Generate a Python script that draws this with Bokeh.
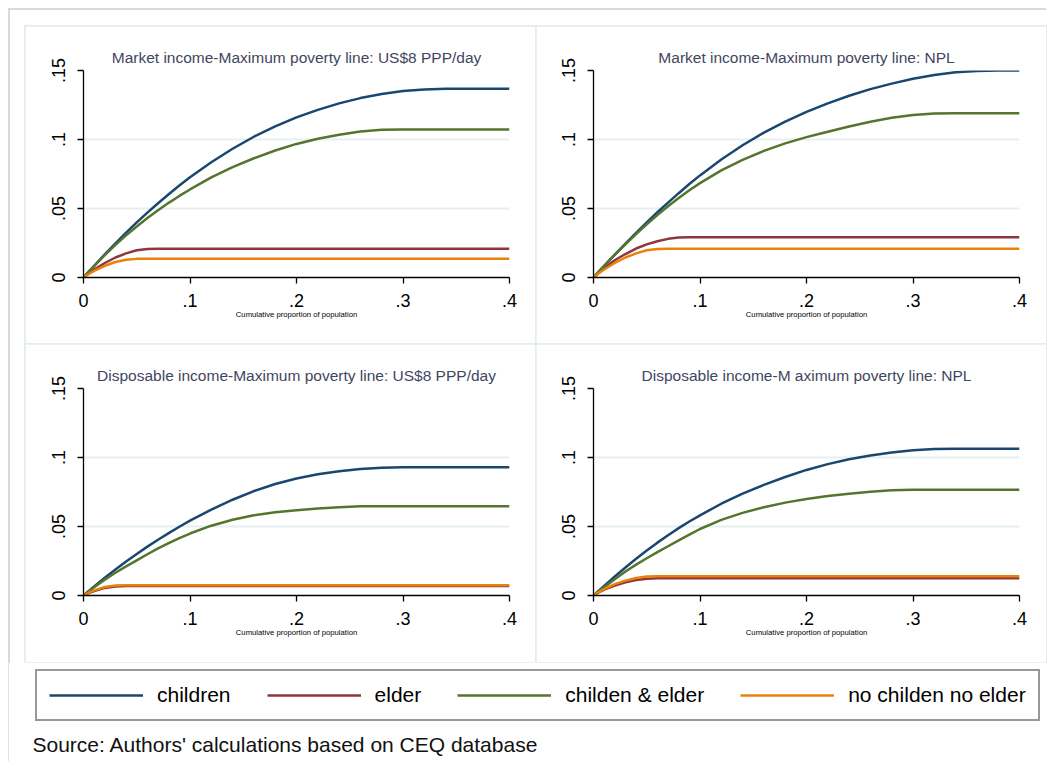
from bokeh.plotting import figure
from bokeh.layouts import column, row
from bokeh.models import Range1d, FixedTicker, Legend, LegendItem, Label, Spacer
from bokeh.embed import file_html
from bokeh.resources import INLINE

# ---------------- data ----------------
X = [0, .005, .01, .02, .03, .04, .05, .06, .07, .08, .09, .1, .12, .14, .16, .18, .2,
     .22, .24, .26, .28, .3, .32, .34, .36, .38, .4]

SERIES = ["children", "elder", "childen & elder", "no childen no elder"]
COLORS = ["#1a476f", "#90353b", "#55752f", "#e8820c"]

TITLES = [
    "Market income-Maximum poverty line: US$8 PPP/day",
    "Market income-Maximum poverty line: NPL",
    "Disposable income-Maximum poverty line: US$8 PPP/day",
    "Disposable income-M aximum poverty line: NPL",
]

# Panel 1: Market income, US$8 PPP/day
P1_CHILDREN = [0, .0043, .0085, .0168, .0248, .0325, .0399, .0470, .0538, .0603, .0666, .0727,
               .0835, .0933, .1020, .1095, .1160, .1215, .1262, .1300, .1330, .1352, .1363,
               .1367, .1367, .1367, .1367]
P1_ELDER = [0, .0030, .0058, .0105, .0145, .0175, .0197, .0207, .0208, .0208, .0208, .0208,
            .0208, .0208, .0208, .0208, .0208, .0208, .0208, .0208, .0208, .0208, .0208,
            .0208, .0208, .0208, .0208]
P1_BOTH = [0, .0042, .0083, .0162, .0236, .0305, .0370, .0431, .0488, .0541, .0591, .0638,
           .0725, .0800, .0864, .0920, .0968, .1005, .1035, .1058, .1070, .1072, .1072,
           .1072, .1072, .1072, .1072]
P1_NONE = [0, .0025, .0048, .0085, .0112, .0128, .0135, .0135, .0135, .0135, .0135, .0135,
           .0135, .0135, .0135, .0135, .0135, .0135, .0135, .0135, .0135, .0135, .0135,
           .0135, .0135, .0135, .0135]

# Panel 2: Market income, NPL
P2_CHILDREN = [0, .0042, .0084, .0166, .0246, .0324, .0400, .0473, .0543, .0611, .0677, .0740,
               .0855, .0958, .1050, .1130, .1200, .1262, .1317, .1365, .1405, .1440, .1468,
               .1487, .1497, .1500, .1500]
P2_ELDER = [0, .0035, .0068, .0125, .0170, .0210, .0240, .0263, .0280, .0290, .0292, .0292,
            .0292, .0292, .0292, .0292, .0292, .0292, .0292, .0292, .0292, .0292, .0292,
            .0292, .0292, .0292, .0292]
P2_BOTH = [0, .0042, .0084, .0164, .0241, .0315, .0386, .0453, .0516, .0576, .0632, .0684,
           .0776, .0853, .0918, .0972, .1017, .1056, .1094, .1128, .1157, .1178, .1188,
           .1190, .1190, .1190, .1190]
P2_NONE = [0, .0030, .0058, .0105, .0145, .0175, .0197, .0207, .0208, .0208, .0208, .0208,
           .0208, .0208, .0208, .0208, .0208, .0208, .0208, .0208, .0208, .0208, .0208,
           .0208, .0208, .0208, .0208]

# Panel 3: Disposable income, US$8 PPP/day
P3_CHILDREN = [0, .0033, .0065, .0128, .0188, .0246, .0301, .0354, .0404, .0452, .0498, .0542,
               .0622, .0694, .0757, .0808, .0848, .0878, .0900, .0916, .0926, .0930, .0930,
               .0930, .0930, .0930, .0930]
P3_ELDER = [0, .0017, .0032, .0055, .0066, .0068, .0068, .0068, .0068, .0068, .0068, .0068,
            .0068, .0068, .0068, .0068, .0068, .0068, .0068, .0068, .0068, .0068, .0068,
            .0068, .0068, .0068, .0068]
P3_BOTH = [0, .0030, .0060, .0115, .0165, .0211, .0254, .0299, .0341, .0380, .0416, .0449,
           .0506, .0549, .0581, .0603, .0618, .0630, .0640, .0646, .0647, .0647, .0647,
           .0647, .0647, .0647, .0647]
P3_NONE = [0, .0020, .0037, .0062, .0073, .0074, .0074, .0074, .0074, .0074, .0074, .0074,
           .0074, .0074, .0074, .0074, .0074, .0074, .0074, .0074, .0074, .0074, .0074,
           .0074, .0074, .0074, .0074]

# Panel 4: Disposable income, NPL
P4_CHILDREN = [0, .0035, .0070, .0138, .0203, .0266, .0326, .0383, .0437, .0488, .0536, .0581,
               .0665, .0738, .0802, .0859, .0910, .0952, .0987, .1015, .1037, .1052, .1061,
               .1063, .1063, .1063, .1063]
P4_ELDER = [0, .0022, .0042, .0072, .0095, .0112, .0122, .0125, .0125, .0125, .0125, .0125,
            .0125, .0125, .0125, .0125, .0125, .0125, .0125, .0125, .0125, .0125, .0125,
            .0125, .0125, .0125, .0125]
P4_BOTH = [0, .0030, .0060, .0118, .0174, .0224, .0270, .0314, .0357, .0399, .0441, .0482,
           .0548, .0599, .0640, .0673, .0700, .0721, .0738, .0752, .0762, .0766, .0766,
           .0766, .0766, .0766, .0766]
P4_NONE = [0, .0025, .0047, .0082, .0108, .0127, .0137, .0140, .0140, .0140, .0140, .0140,
           .0140, .0140, .0140, .0140, .0140, .0140, .0140, .0140, .0140, .0140, .0140,
           .0140, .0140, .0140, .0140]

PANELS = [
    [P1_CHILDREN, P1_ELDER, P1_BOTH, P1_NONE],
    [P2_CHILDREN, P2_ELDER, P2_BOTH, P2_NONE],
    [P3_CHILDREN, P3_ELDER, P3_BOTH, P3_NONE],
    [P4_CHILDREN, P4_ELDER, P4_BOTH, P4_NONE],
]

X_TICKS = [0, 0.1, 0.2, 0.3, 0.4]
X_TICK_LABELS = ["0", ".1", ".2", ".3", ".4"]
Y_TICKS = [0, 0.05, 0.1, 0.15]
Y_TICK_LABELS = ["0", ".05", ".1", ".15"]
X_LABEL = "Cumulative proportion of population"
SOURCE = "Source: Authors' calculations based on CEQ database"

FONT = "Liberation Sans"
PANEL_EDGE = "#e3ecef"


def make_panel(idx, width, left, right):
    p = figure(width=width, height=318, output_backend="svg", toolbar_location=None,
               x_range=Range1d(0, 0.4), y_range=Range1d(0, 0.15),
               min_border_left=left, min_border_right=right,
               min_border_top=44, min_border_bottom=67,
               background_fill_color="white", border_fill_color="white",
               outline_line_color=None,
               styles={"outline": "2px solid " + PANEL_EDGE, "outline-offset": "-1px"})
    p.title.text = TITLES[idx]
    p.title.align = "center"
    p.title.text_font = FONT
    p.title.text_font_size = "15.5px"
    p.title.text_font_style = "normal"
    p.title.text_color = "#3f4660"
    p.title.standoff = 10

    for ys, c in zip(PANELS[idx], COLORS):
        p.line(X, ys, line_color=c, line_width=2.5)

    xa = p.xaxis[0]
    xa.ticker = FixedTicker(ticks=X_TICKS)
    xa.major_label_overrides = dict(zip(X_TICKS, X_TICK_LABELS))
    xa.axis_label = X_LABEL
    xa.axis_label_text_font = FONT
    xa.axis_label_text_font_size = "7.7px"
    xa.axis_label_text_font_style = "normal"
    xa.axis_label_text_color = "black"
    xa.axis_label_standoff = 0
    ya = p.yaxis[0]
    ya.ticker = FixedTicker(ticks=Y_TICKS)
    ya.major_label_overrides = dict(zip(Y_TICKS, Y_TICK_LABELS))
    ya.major_label_orientation = "vertical"

    for ax in (xa, ya):
        ax.axis_line_color = "black"
        ax.axis_line_width = 1.3
        ax.major_tick_line_color = "black"
        ax.major_tick_line_width = 1.3
        ax.major_tick_out = 6
        ax.major_tick_in = 0
        ax.minor_tick_line_color = None
        ax.major_label_text_font = FONT
        ax.major_label_text_font_size = "18px"
        ax.major_label_text_color = "black"
    xa.major_label_standoff = 10
    ya.major_label_standoff = 13

    p.xgrid.visible = False
    p.ygrid.ticker = FixedTicker(ticks=Y_TICKS[1:])
    p.ygrid.grid_line_color = "#e6eff2"
    p.ygrid.grid_line_width = 2
    return p


f1 = make_panel(0, 511, 58, 27)
f2 = make_panel(1, 510, 57, 27)
f3 = make_panel(2, 511, 58, 27)
f4 = make_panel(3, 510, 57, 27)

# ---------------- legend + source ----------------
leg = figure(width=1038, height=99, output_backend="svg", toolbar_location=None,
             x_axis_location=None, y_axis_location=None,
             min_border_left=24, min_border_top=6, min_border_right=0, min_border_bottom=0,
             outline_line_color=None, background_fill_color="white", border_fill_color="white")
leg.grid.visible = False
items = []
for name, c, ys in zip(SERIES, COLORS, PANELS[0]):
    # renderer kept hidden: it only supplies the legend sample
    r = leg.line(X, ys, line_color=c, line_width=2.5, visible=False)
    items.append(LegendItem(label=name, renderers=[r]))
legend = Legend(items=items, orientation="horizontal", location=(3, 40),
                click_policy="none",
                margin=0, padding=12, spacing=36, glyph_width=94, glyph_height=24,
                label_standoff=14, label_text_font=FONT, label_text_font_size="21px",
                label_text_color="black",
                label_height=24, border_line_color="#333333", border_line_width=2,
                background_fill_color="white", background_fill_alpha=1)
leg.add_layout(legend, "center")
leg.add_layout(Label(x=0, y=17, x_units="screen", y_units="screen", text=SOURCE,
                     text_font=FONT, text_font_size="21px", text_baseline="middle",
                     text_color="#111111"))

inner = column(
    Spacer(width=1038, height=18),
    row(Spacer(width=17, height=318), f1, f2),
    row(Spacer(width=17, height=318), f3, f4),
    leg,
    styles={"box-shadow": "inset 2px 2px 0 #d9d9d9"},
)
layout = column(Spacer(width=1046, height=8), row(Spacer(width=8, height=761), inner))

open("out.html", "w").write(file_html(layout, INLINE))
